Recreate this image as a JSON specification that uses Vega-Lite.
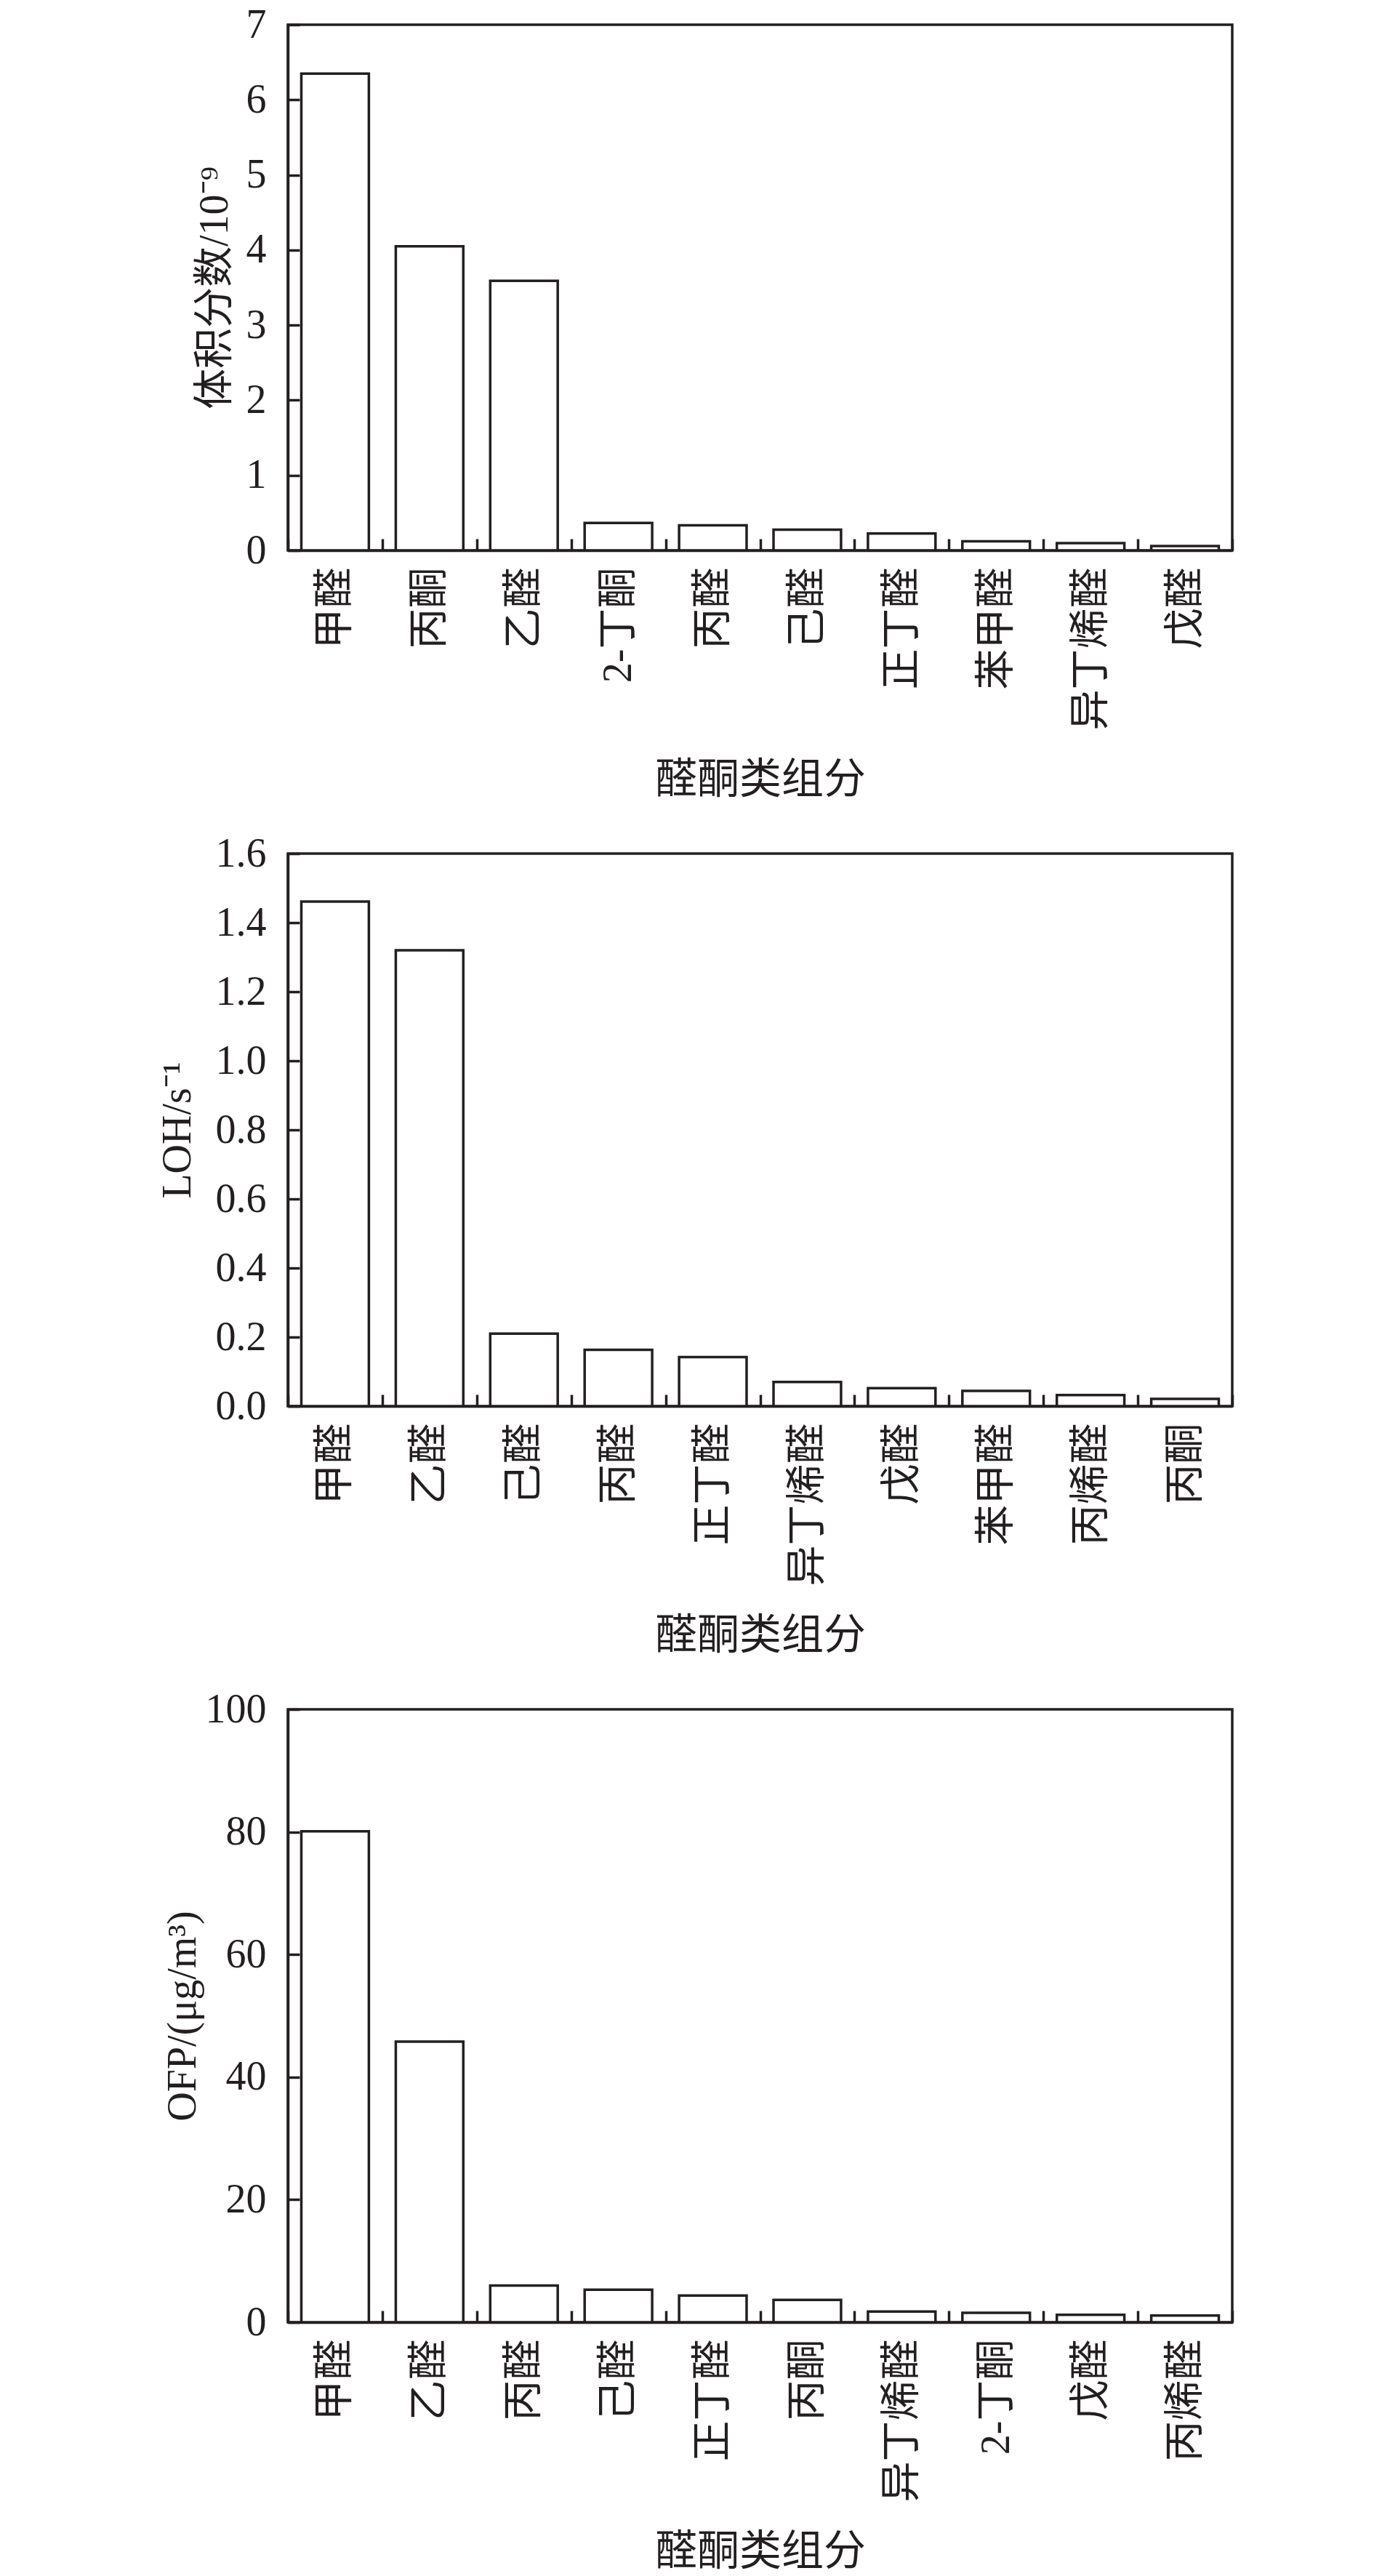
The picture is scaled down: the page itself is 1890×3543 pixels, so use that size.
{
  "$schema": "https://vega.github.io/schema/vega-lite/v6.json",
  "background": "white",
  "padding": {"left": 214, "top": 4, "right": 5, "bottom": 5},
  "spacing": 40,
  "config": {
    "view": {"stroke": "#231f20", "strokeWidth": 3.5},
    "font": "Liberation Serif, Noto Sans CJK SC",
    "axis": {
      "domainColor": "#231f20", "domainWidth": 3.5,
      "tickColor": "#231f20", "tickWidth": 3.5, "tickSize": -16,
      "labelFont": "Liberation Serif, Noto Sans CJK SC", "labelFontSize": 56, "labelColor": "#231f20",
      "titleFont": "Liberation Serif, Noto Sans CJK SC", "titleFontSize": 56, "titleFontWeight": "normal", "titleColor": "#231f20",
      "grid": false, "labelOverlap": false, "labelFlush": false, "labelLimit": 0
    },
    "axisX": {"labelAngle": 270, "tickBand": "extent", "tickSize": -16, "labelPadding": 39, "titlePadding": 87, "titleFontSize": 58},
    "axisY": {"labelPadding": 46, "titlePadding": 15},
    "scale": {"bandPaddingInner": 0, "bandPaddingOuter": 0}
  },
  "datasets": {
    "vol": [
      {"name": "甲醛", "value": 6.35},
      {"name": "丙酮", "value": 4.05},
      {"name": "乙醛", "value": 3.59},
      {"name": "2-丁酮", "value": 0.365},
      {"name": "丙醛", "value": 0.335},
      {"name": "己醛", "value": 0.277},
      {"name": "正丁醛", "value": 0.226},
      {"name": "苯甲醛", "value": 0.122},
      {"name": "异丁烯醛", "value": 0.096},
      {"name": "戊醛", "value": 0.057}
    ],
    "loh": [
      {"name": "甲醛", "value": 1.461},
      {"name": "乙醛", "value": 1.32},
      {"name": "己醛", "value": 0.21},
      {"name": "丙醛", "value": 0.163},
      {"name": "正丁醛", "value": 0.142},
      {"name": "异丁烯醛", "value": 0.07},
      {"name": "戊醛", "value": 0.052},
      {"name": "苯甲醛", "value": 0.044},
      {"name": "丙烯醛", "value": 0.032},
      {"name": "丙酮", "value": 0.021}
    ],
    "ofp": [
      {"name": "甲醛", "value": 80.1},
      {"name": "乙醛", "value": 45.8},
      {"name": "丙醛", "value": 6.0},
      {"name": "己醛", "value": 5.3},
      {"name": "正丁醛", "value": 4.36},
      {"name": "丙酮", "value": 3.65},
      {"name": "异丁烯醛", "value": 1.75},
      {"name": "2-丁酮", "value": 1.55},
      {"name": "戊醛", "value": 1.23},
      {"name": "丙烯醛", "value": 1.1}
    ]
  },
  "vconcat": [
    {
      "width": 1299, "height": 723,
      "data": {"name": "vol"},
      "mark": {"type": "bar", "fill": "white", "stroke": "#231f20", "strokeWidth": 3.5, "width": {"band": 0.715}},
      "encoding": {
        "x": {"field": "name", "type": "nominal", "sort": null, "title": "醛酮类组分"},
        "y": {"field": "value", "type": "quantitative", "scale": {"domain": [0, 7], "nice": false},
              "axis": {"values": [0, 1, 2, 3, 4, 5, 6, 7], "titlePadding": 14}, "title": "体积分数/10⁻⁹"}
      }
    },
    {
      "width": 1299, "height": 760,
      "data": {"name": "loh"},
      "mark": {"type": "bar", "fill": "white", "stroke": "#231f20", "strokeWidth": 3.5, "width": {"band": 0.715}},
      "encoding": {
        "x": {"field": "name", "type": "nominal", "sort": null, "title": "醛酮类组分"},
        "y": {"field": "value", "type": "quantitative", "scale": {"domain": [0, 1.6], "nice": false},
              "axis": {"values": [0, 0.2, 0.4, 0.6, 0.8, 1.0, 1.2, 1.4, 1.6], "format": ".1f", "titlePadding": 23}, "title": "LOH/s⁻¹"}
      }
    },
    {
      "width": 1299, "height": 843,
      "data": {"name": "ofp"},
      "mark": {"type": "bar", "fill": "white", "stroke": "#231f20", "strokeWidth": 3.5, "width": {"band": 0.715}},
      "encoding": {
        "x": {"field": "name", "type": "nominal", "sort": null, "title": "醛酮类组分"},
        "y": {"field": "value", "type": "quantitative", "scale": {"domain": [0, 100], "nice": false},
              "axis": {"values": [0, 20, 40, 60, 80, 100], "titlePadding": 2}, "title": "OFP/(μg/m³)"}
      }
    }
  ]
}
